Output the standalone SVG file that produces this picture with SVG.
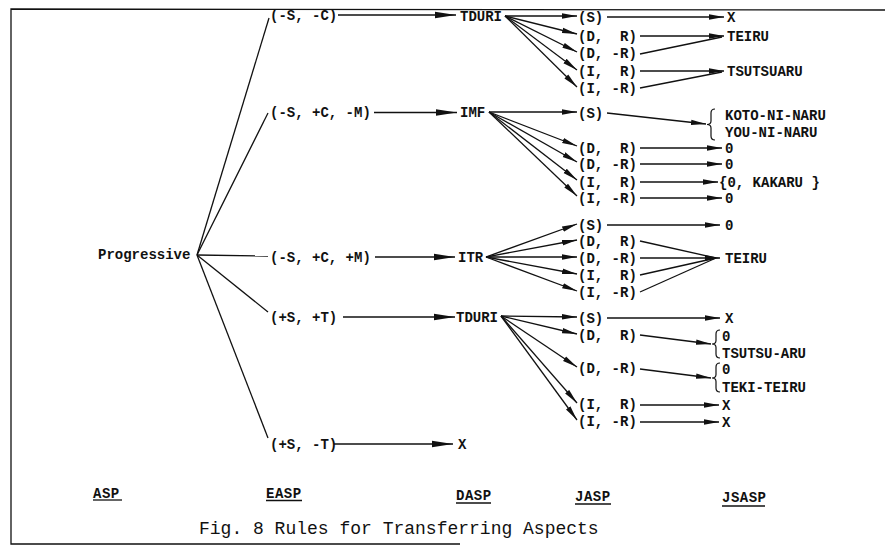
<svg xmlns="http://www.w3.org/2000/svg" width="885" height="550" viewBox="0 0 885 550">
<defs>
<style>
text{font-family:"Liberation Mono","DejaVu Sans Mono",monospace;font-size:14px;font-weight:bold;fill:#111}
.cap{font-size:18px;font-weight:normal}
.hdr{font-size:14px;letter-spacing:0.5px}
.ln{stroke:#111;stroke-width:1.3;fill:none}
.big{marker-end:url(#ah)}
.sm{marker-end:url(#as)}
.br{stroke:#111;stroke-width:1.2;fill:none}
</style>
<marker id="ah" markerUnits="userSpaceOnUse" markerWidth="22" markerHeight="8" refX="21" refY="4" orient="auto"><path d="M0,0.8 L21,4 L0,7.2 z" fill="#111"/></marker>
<marker id="as" markerUnits="userSpaceOnUse" markerWidth="16" markerHeight="7" refX="15" refY="3.5" orient="auto"><path d="M0,0.8 L15,3.5 L0,6.2 z" fill="#111"/></marker>
</defs>
<rect width="885" height="550" fill="#fff"/>
<path class="ln" d="M885,10 L11,9 L11,544 L460,544" stroke-width="1.5"/>

<g id="connectors">
<!-- hub fan -->
<line class="ln" x1="197" y1="255" x2="269" y2="18"/>
<line class="ln" x1="197" y1="255" x2="268" y2="113"/>
<line class="ln" x1="197" y1="255" x2="268" y2="256"/>
<line class="ln" x1="197" y1="255" x2="268" y2="312"/>
<line class="ln" x1="197" y1="255" x2="268" y2="438"/>
<!-- EASP to DASP -->
<line class="ln big" x1="338" y1="15" x2="456" y2="15"/>
<line class="ln big" x1="374" y1="112.5" x2="457" y2="112.5"/>
<line class="ln big" x1="375" y1="257" x2="455" y2="257"/>
<line class="ln big" x1="343" y1="317" x2="455" y2="317"/>
<line class="ln big" x1="334" y1="444" x2="453" y2="444"/>
<!-- TDURI 1 fan -->
<line class="ln sm" x1="505" y1="16" x2="577" y2="16"/>
<line class="ln sm" x1="505" y1="16" x2="577" y2="34"/>
<line class="ln sm" x1="505" y1="16" x2="577" y2="52"/>
<line class="ln sm" x1="505" y1="16" x2="577" y2="70"/>
<line class="ln sm" x1="505" y1="16" x2="577" y2="87"/>
<!-- IMF fan -->
<line class="ln sm" x1="489" y1="112" x2="577" y2="112"/>
<line class="ln sm" x1="489" y1="112" x2="577" y2="146"/>
<line class="ln sm" x1="489" y1="112" x2="577" y2="162"/>
<line class="ln sm" x1="489" y1="112" x2="577" y2="180"/>
<line class="ln sm" x1="489" y1="112" x2="577" y2="196"/>
<!-- ITR fan -->
<line class="ln sm" x1="486" y1="257" x2="577" y2="224"/>
<line class="ln sm" x1="486" y1="257" x2="577" y2="240"/>
<line class="ln sm" x1="486" y1="257" x2="577" y2="257"/>
<line class="ln sm" x1="486" y1="257" x2="577" y2="274"/>
<line class="ln sm" x1="486" y1="257" x2="577" y2="291"/>
<!-- TDURI 2 fan -->
<line class="ln sm" x1="501" y1="316" x2="577" y2="317"/>
<line class="ln sm" x1="501" y1="316" x2="577" y2="334"/>
<line class="ln sm" x1="501" y1="316" x2="577" y2="367"/>
<line class="ln sm" x1="501" y1="316" x2="577" y2="403"/>
<line class="ln sm" x1="501" y1="316" x2="577" y2="420"/>
<!-- JASP to JSASP group 1 -->
<line class="ln sm" x1="607" y1="17" x2="724" y2="17"/>
<line class="ln sm" x1="640" y1="36" x2="724" y2="36"/>
<line class="ln" x1="640" y1="54" x2="722" y2="37"/>
<line class="ln sm" x1="640" y1="71" x2="724" y2="71"/>
<line class="ln" x1="640" y1="88" x2="722" y2="72"/>
<!-- group 2 -->
<line class="ln sm" x1="607" y1="113" x2="706" y2="124"/>
<line class="ln sm" x1="640" y1="148" x2="722" y2="148"/>
<line class="ln sm" x1="640" y1="164" x2="722" y2="164"/>
<line class="ln sm" x1="640" y1="182" x2="718" y2="182"/>
<line class="ln sm" x1="640" y1="198" x2="722" y2="198"/>
<!-- group 3 -->
<line class="ln sm" x1="607" y1="225" x2="720" y2="225"/>
<line class="ln" x1="640" y1="241" x2="716" y2="258"/>
<line class="ln sm" x1="640" y1="258" x2="720" y2="258"/>
<line class="ln" x1="640" y1="275" x2="716" y2="258"/>
<line class="ln" x1="640" y1="292" x2="716" y2="258"/>
<!-- group 4 -->
<line class="ln sm" x1="607" y1="318" x2="720" y2="318"/>
<line class="ln sm" x1="640" y1="335" x2="711" y2="344"/>
<line class="ln sm" x1="640" y1="369" x2="711" y2="378"/>
<line class="ln sm" x1="640" y1="405" x2="719" y2="405"/>
<line class="ln sm" x1="640" y1="422" x2="719" y2="422"/>
</g>

<g id="n-progressive"><text x="98" y="259">Progressive</text></g>

<g id="n-easp-1"><text x="270" y="19.5">(-S, -C)</text></g>
<g id="n-easp-2"><text x="270" y="117">(-S, +C, -M)</text></g>
<g id="n-easp-3"><text x="270" y="261.5">(-S, +C, +M)</text></g>
<g id="n-easp-4"><text x="270" y="321.5">(+S, +T)</text></g>
<g id="n-easp-5"><text x="270" y="448.5">(+S, -T)</text></g>

<g id="n-dasp-tduri-1"><text x="460" y="20.5">TDURI</text></g>
<g id="n-dasp-imf"><text x="460" y="117">IMF</text></g>
<g id="n-dasp-itr"><text x="458" y="261.5">ITR</text></g>
<g id="n-dasp-tduri-2"><text x="456" y="321.5">TDURI</text></g>
<g id="n-dasp-x"><text x="458" y="448.5">X</text></g>

<g id="n-jasp-1">
<text x="578" y="21.5">(S)</text>
<text x="578" y="40.5" xml:space="preserve">(D,  R)</text>
<text x="578" y="58">(D, -R)</text>
<text x="578" y="75.5" xml:space="preserve">(I,  R)</text>
<text x="578" y="92.5">(I, -R)</text>
</g>
<g id="n-jasp-2">
<text x="578" y="117.5">(S)</text>
<text x="578" y="152.5" xml:space="preserve">(D,  R)</text>
<text x="578" y="168.5">(D, -R)</text>
<text x="578" y="186.5" xml:space="preserve">(I,  R)</text>
<text x="578" y="202.5">(I, -R)</text>
</g>
<g id="n-jasp-3">
<text x="578" y="229.5">(S)</text>
<text x="578" y="245.5" xml:space="preserve">(D,  R)</text>
<text x="578" y="262.5">(D, -R)</text>
<text x="578" y="279.5" xml:space="preserve">(I,  R)</text>
<text x="578" y="296.5">(I, -R)</text>
</g>
<g id="n-jasp-4">
<text x="578" y="322.5">(S)</text>
<text x="578" y="339.5" xml:space="preserve">(D,  R)</text>
<text x="578" y="372.5">(D, -R)</text>
<text x="578" y="408.5" xml:space="preserve">(I,  R)</text>
<text x="578" y="425.5">(I, -R)</text>
</g>

<g id="n-jsasp-1">
<text x="727" y="21.5">X</text>
<text x="727" y="41">TEIRU</text>
<text x="727" y="76">TSUTSUARU</text>
</g>
<g id="n-jsasp-2">
<path class="br" d="M715,109 Q711,109 711,113 L711,121 Q711,124.5 707,124.5 Q711,124.5 711,128 L711,136 Q711,140 715,140"/>
<text x="725" y="119.5">KOTO-NI-NARU</text>
<text x="725" y="136.5">YOU-NI-NARU</text>
<text x="725" y="152.5">0</text>
<text x="725" y="168.5">0</text>
<text x="719" y="186.5">{0, KAKARU }</text>
<text x="725" y="202.5">0</text>
</g>
<g id="n-jsasp-3">
<text x="725" y="229.5">0</text>
<text x="725" y="262.5">TEIRU</text>
</g>
<g id="n-jsasp-4">
<text x="725" y="322.5">X</text>
<path class="br" d="M720,330 Q716,330 716,334 L716,340.5 Q716,344 712,344 Q716,344 716,347.5 L716,354 Q716,358 720,358"/>
<text x="722" y="340.5">0</text>
<text x="722" y="357.5">TSUTSU-ARU</text>
<path class="br" d="M720,363 Q716,363 716,367 L716,374.5 Q716,378 712,378 Q716,378 716,381.5 L716,388 Q716,392 720,392"/>
<text x="722" y="373.5">0</text>
<text x="722" y="391.5">TEKI-TEIRU</text>
<text x="722" y="409.5">X</text>
<text x="722" y="426.5">X</text>
</g>

<g id="headers">
<text class="hdr" x="93" y="497.5">ASP</text>
<line class="ln" x1="93" y1="500" x2="122" y2="500"/>
<text class="hdr" x="266" y="498">EASP</text>
<line class="ln" x1="266" y1="500.5" x2="302" y2="500.5"/>
<text class="hdr" x="456" y="500">DASP</text>
<line class="ln" x1="456" y1="503" x2="491" y2="503"/>
<text class="hdr" x="575" y="501">JASP</text>
<line class="ln" x1="575" y1="504" x2="611" y2="504"/>
<text class="hdr" x="722" y="502">JSASP</text>
<line class="ln" x1="722" y1="506" x2="765" y2="506"/>
</g>

<g id="caption"><text class="cap" x="199" y="534">Fig. 8 Rules for Transferring Aspects</text></g>
</svg>
